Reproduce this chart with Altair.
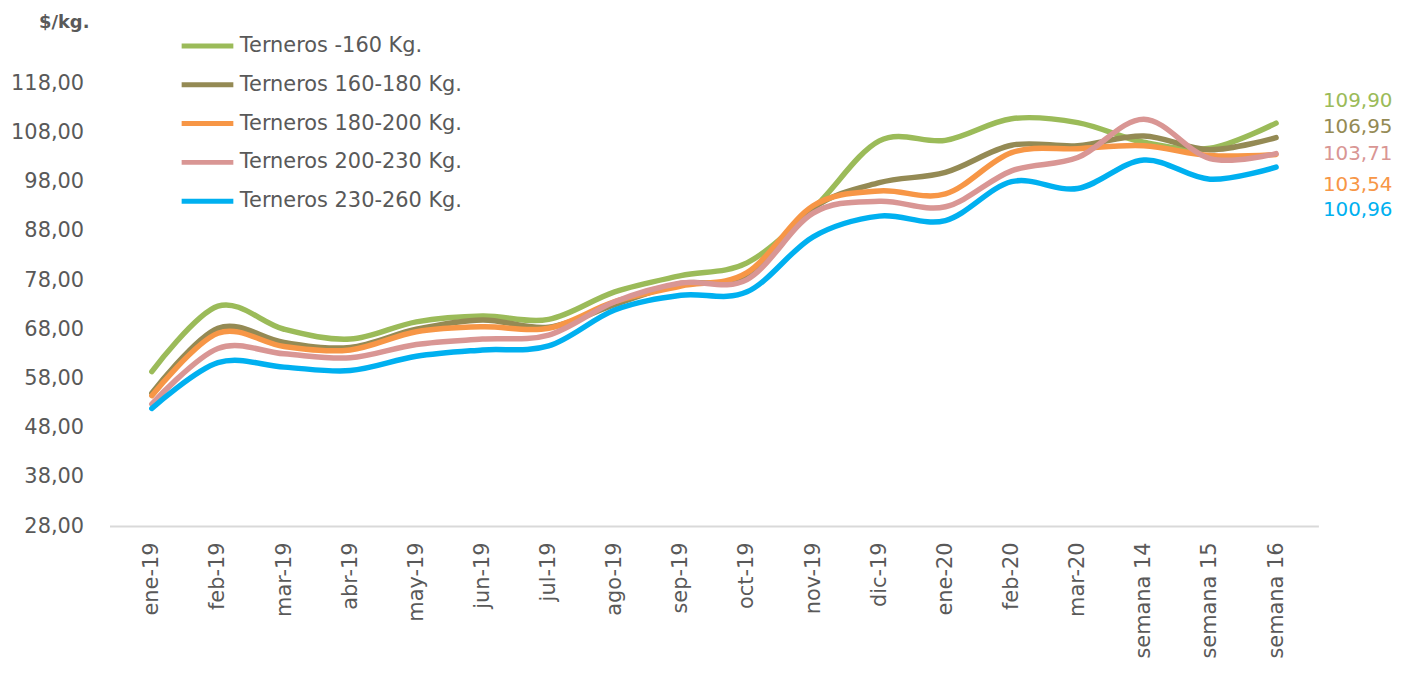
import altair as alt
import pandas as pd

categories = ["ene-19", "feb-19", "mar-19", "abr-19", "may-19", "jun-19", "jul-19",
              "ago-19", "sep-19", "oct-19", "nov-19", "dic-19", "ene-20", "feb-20",
              "mar-20", "semana 14", "semana 15", "semana 16"]

series = ["Terneros -160 Kg.", "Terneros 160-180 Kg.", "Terneros 180-200 Kg.",
          "Terneros 200-230 Kg.", "Terneros 230-260 Kg."]

t_160 = [59.4, 72.7, 68.0, 66.0, 69.5, 70.7, 70.0, 75.6, 78.9, 81.5, 92.5, 106.3,
         106.4, 110.8, 110.0, 106.0, 104.8, 109.90]
t_160_180 = [55.0, 68.2, 65.3, 64.3, 68.0, 69.9, 68.4, 73.0, 77.3, 78.5, 92.6, 97.8,
             99.9, 105.4, 105.3, 107.3, 104.5, 106.95]
t_180_200 = [54.5, 67.2, 64.5, 63.8, 67.5, 68.5, 68.2, 73.6, 76.8, 79.5, 93.1, 96.1,
             95.5, 103.9, 104.7, 105.3, 103.3, 103.54]
t_200_230 = [52.8, 64.1, 63.0, 62.2, 64.9, 66.0, 66.8, 73.6, 77.4, 78.1, 91.6, 94.0,
             92.9, 100.2, 102.9, 110.7, 102.7, 103.71]
t_230_260 = [51.9, 61.2, 60.3, 59.6, 62.5, 63.8, 64.6, 71.9, 74.9, 75.6, 86.8, 91.0,
             90.1, 98.0, 96.6, 102.4, 98.5, 100.96]

y_ticks = [28, 38, 48, 58, 68, 78, 88, 98, 108, 118]
colors = ["#9BBB59", "#948A54", "#F79646", "#D99694", "#00B0F0"]
label_dy = [-22, -11, 31, 0, 43]

all_values = [t_160, t_160_180, t_180_200, t_200_230, t_230_260]
rows = []
for s, vals in zip(series, all_values):
    for c, v in zip(categories, vals):
        rows.append({"cat": c, "serie": s, "valor": v})
df = pd.DataFrame(rows)

last = df[df["cat"] == categories[-1]].copy()
last["lbl"] = last["valor"].map(lambda v: f"{v:.2f}".replace(".", ","))

GRAY = "#595959"
FONT = "DejaVu Sans"

x_enc = alt.X(
    "cat:N", sort=categories,
    scale=alt.Scale(type="point", padding=0.64),
    axis=alt.Axis(title=None, labelAngle=270, ticks=False, domainColor="#D9D9D9",
                  domainWidth=2, labelFontSize=21, labelColor=GRAY, labelPadding=16,
                  labelFont=FONT, labelAlign="right", labelBaseline="middle"),
)
y_enc = alt.Y(
    "valor:Q",
    scale=alt.Scale(domain=[28, 118], nice=False, zero=False),
    axis=alt.Axis(values=y_ticks, grid=False, domain=False, ticks=False,
                  labelExpr="replace(format(datum.value, '.2f'), '.', ',')",
                  labelFontSize=21, labelColor=GRAY, labelFont=FONT, labelPadding=26,
                  title="$/kg.", titleAngle=0, titleX=-46, titleY=-61,
                  titleAlign="center", titleBaseline="middle", titleFontWeight="bold",
                  titleFontSize=18, titleColor=GRAY, titleFont=FONT),
)

lines = alt.Chart(df).mark_line(interpolate="cardinal", strokeWidth=5.5, strokeCap="round").encode(
    x=x_enc, y=y_enc,
    color=alt.Color("serie:N", sort=series,
                    scale=alt.Scale(domain=series, range=colors),
                    legend=alt.Legend(title=None, orient="none", legendX=70, legendY=-66,
                                      symbolType="stroke", symbolSize=2700,
                                      symbolStrokeWidth=5, labelFontSize=21,
                                      labelFont=FONT, labelColor=GRAY, labelOffset=4,
                                      labelLimit=0, rowPadding=-2.5)),
)

layers = [lines]
for i, s in enumerate(series):
    layers.append(
        alt.Chart(last[last["serie"] == s]).mark_text(
            align="center", baseline="middle", dx=82, dy=label_dy[i], fontSize=20,
            font=FONT, color=colors[i]
        ).encode(x=x_enc, y=y_enc, text="lbl:N")
    )

chart = alt.layer(*layers).properties(
    width=1215, height=445,
    autosize=alt.AutoSizeParams(type="none"),
    padding={"left": 102, "top": 74, "right": 80, "bottom": 137},
).configure_view(stroke=None)

chart.save("out.html", embed_options={"renderer": "svg", "actions": False})
